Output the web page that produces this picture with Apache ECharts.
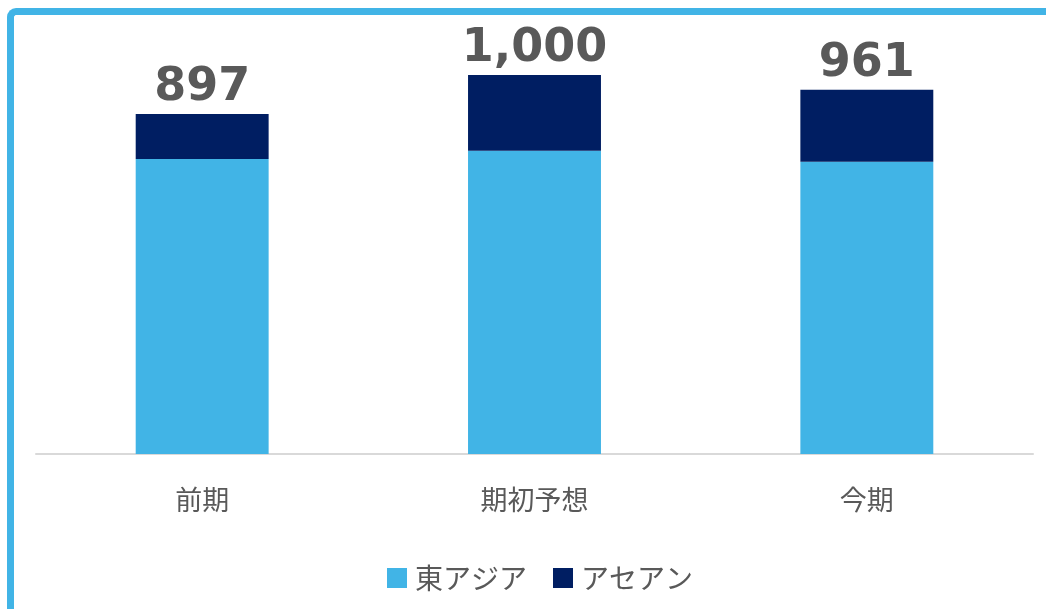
<!DOCTYPE html>
<html lang="ja">
<head>
    <meta charset="UTF-8">
    <title>地域別</title>
    <style>
        * { margin: 0; padding: 0; box-sizing: border-box; }
        body { width: 1046px; height: 609px; background: #fff; overflow: hidden; position: relative; }
        #chart { position: absolute; left: 0; top: 0; width: 1046px; height: 609px; }
        .frame {
            position: absolute; left: 7px; top: 8px; right: -20px; bottom: -20px;
            border-top: 7px solid #41b4e6; border-left: 7px solid #41b4e6;
            border-top-left-radius: 9px; pointer-events: none;
        }
    </style>
</head>
<body>
    <div id="chart"></div>
    <div class="frame"></div>
    <script src="https://cdn.jsdelivr.net/npm/echarts@6/dist/echarts.min.js"></script>
    <script>
    const categories = ['前期', '期初予想', '今期'];
    const eastAsia = [778, 800, 771];
    const asean = [119, 200, 190];
    const totals = [897, 1000, 961];

    const chart = echarts.init(document.getElementById('chart'));
    const jpFont = '"Noto Sans CJK JP", sans-serif';

    chart.setOption({
        animation: false,
        grid: { left: 36, right: 13, top: 37, bottom: 155 },
        legend: {
            left: 382, top: 559,
            itemWidth: 20, itemHeight: 20, itemGap: 26,
            icon: 'rect',
            textStyle: { fontFamily: jpFont, fontSize: 28, color: '#595959', padding: [0, 0, 0, 3] },
            data: ['東アジア', 'アセアン']
        },
        xAxis: {
            type: 'category',
            data: categories,
            axisTick: { show: false },
            axisLine: { lineStyle: { color: '#d9d9d9', width: 2 } },
            axisLabel: { margin: 32, fontFamily: jpFont, fontSize: 27, color: '#595959' }
        },
        yAxis: {
            type: 'value', min: 0, max: 1100,
            show: false, splitLine: { show: false }
        },
        series: [
            {
                name: '東アジア', type: 'bar', stack: 'total',
                data: eastAsia, barWidth: '40%',
                itemStyle: { color: '#41b4e6' }
            },
            {
                name: 'アセアン', type: 'bar', stack: 'total',
                data: asean, barWidth: '40%',
                itemStyle: { color: '#001e62' },
                label: {
                    show: true, position: 'top', distance: 3,
                    fontFamily: '"DejaVu Sans", sans-serif', fontWeight: 'bold',
                    fontSize: 46, color: '#595959',
                    formatter: (p) => totals[p.dataIndex].toLocaleString('en-US')
                }
            }
        ]
    });
    </script>
</body>
</html>
